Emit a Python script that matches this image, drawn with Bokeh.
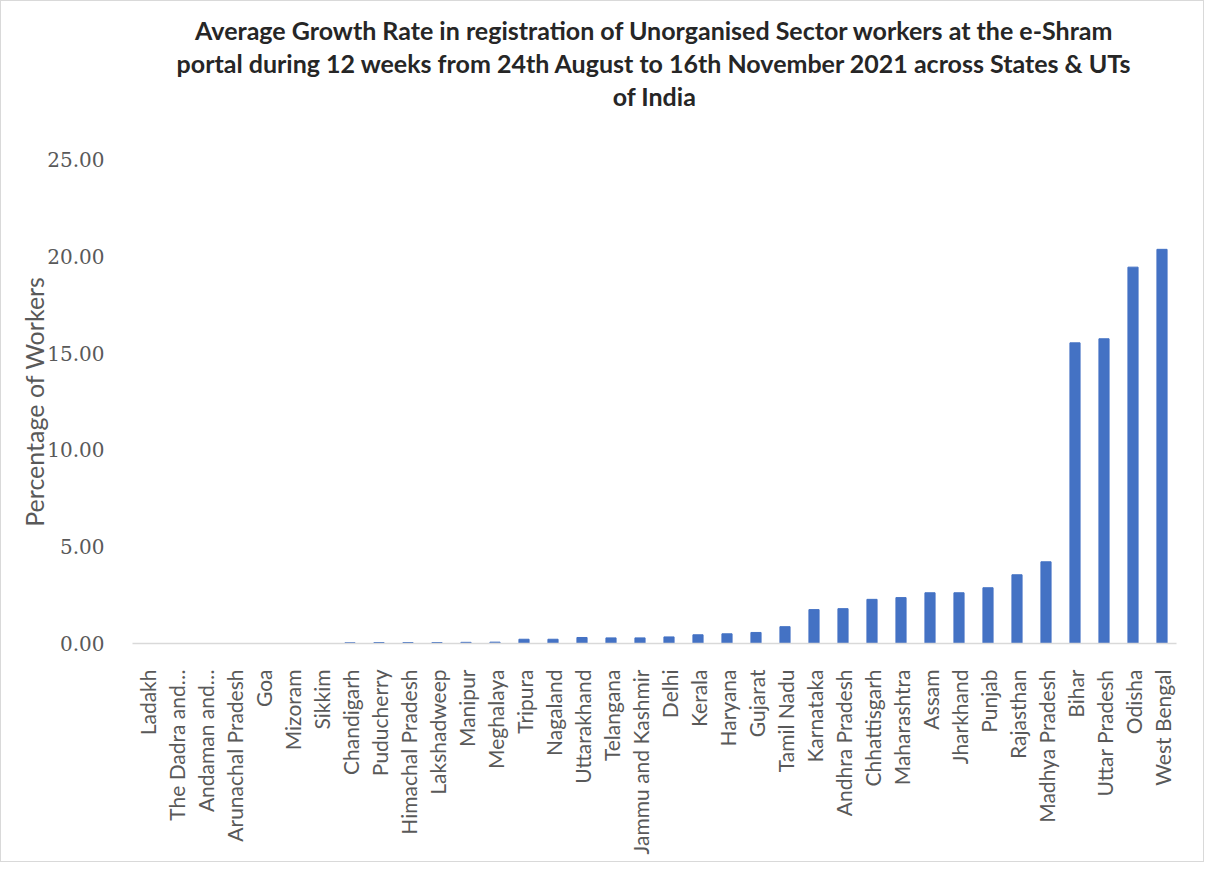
from bokeh.plotting import figure
from bokeh.models import Title, FactorRange, Range1d, NumeralTickFormatter
from bokeh.embed import file_html
from bokeh.resources import INLINE
import math

states = ["Ladakh", "The Dadra and…", "Andaman and…", "Arunachal Pradesh", "Goa",
          "Mizoram", "Sikkim", "Chandigarh", "Puducherry", "Himachal Pradesh",
          "Lakshadweep", "Manipur", "Meghalaya", "Tripura", "Nagaland", "Uttarakhand",
          "Telangana", "Jammu and Kashmir", "Delhi", "Kerala", "Haryana", "Gujarat",
          "Tamil Nadu", "Karnataka", "Andhra Pradesh", "Chhattisgarh", "Maharashtra",
          "Assam", "Jharkhand", "Punjab", "Rajasthan", "Madhya Pradesh", "Bihar",
          "Uttar Pradesh", "Odisha", "West Bengal"]
growth = [0.00, 0.00, 0.00, 0.00, 0.00, 0.00, 0.00, 0.04, 0.05, 0.05,
          0.05, 0.06, 0.07, 0.22, 0.22, 0.31, 0.29, 0.29, 0.34, 0.45,
          0.50, 0.57, 0.87, 1.75, 1.80, 2.28, 2.37, 2.62, 2.62, 2.88,
          3.55, 4.22, 15.53, 15.74, 19.44, 20.36]

title_lines = ["Average Growth Rate in registration of Unorganised Sector workers at the e-Shram",
               "portal during 12 weeks from 24th August to 16th November 2021 across States & UTs",
               "of India"]
y_ticks = [0, 5, 10, 15, 20, 25]

p = figure(width=1204, height=862, x_range=FactorRange(*states, range_padding=0),
           y_range=Range1d(0, 25), output_backend="svg", toolbar_location=None,
           min_border_left=131, min_border_right=29, min_border_bottom=220,
           min_border_top=0)
p.title = None
p.styles = {"border": "1px solid #d9d9d9"}

tfont = "Lato"
# spacer between title block and plot area
p.add_layout(Title(text=" ", text_font_size="41px", standoff=0), "above")
for line in reversed(title_lines):
    t = Title(text=line, align="center", text_font=tfont, text_font_size="25px",
              text_font_style="bold", text_color="#262626", standoff=1)
    p.add_layout(t, "above")
# spacer above the title block
p.add_layout(Title(text=" ", text_font_size="8px", standoff=0), "above")

p.vbar(x=states, top=growth, width=0.35, color="#4472C4")

p.xgrid.grid_line_color = None
p.ygrid.grid_line_color = None
p.outline_line_color = None

p.xaxis.axis_line_color = "#d9d9d9"
p.xaxis.axis_line_width = 1.5
p.xaxis.major_tick_line_color = None
p.xaxis.minor_tick_line_color = None
p.xaxis.major_label_orientation = math.pi / 2
p.xaxis.major_label_text_font = tfont
p.xaxis.major_label_text_font_size = "21px"
p.xaxis.major_label_text_color = "#595959"
p.xaxis.major_label_standoff = 20

p.yaxis.ticker = y_ticks
p.yaxis.formatter = NumeralTickFormatter(format="0.00")
p.yaxis.axis_line_color = None
p.yaxis.major_tick_line_color = None
p.yaxis.minor_tick_line_color = None
p.yaxis.major_label_text_font = "DejaVu Serif"
p.yaxis.major_label_text_font_size = "20px"
p.yaxis.major_label_text_color = "#595959"
p.yaxis.major_label_standoff = 22
p.yaxis.axis_label = "Percentage of Workers"
p.yaxis.axis_label_text_font = tfont
p.yaxis.axis_label_text_font_size = "25px"
p.yaxis.axis_label_text_font_style = "normal"
p.yaxis.axis_label_text_color = "#595959"
p.yaxis.axis_label_standoff = -5

open("out.html", "w").write(file_html(p, INLINE))
